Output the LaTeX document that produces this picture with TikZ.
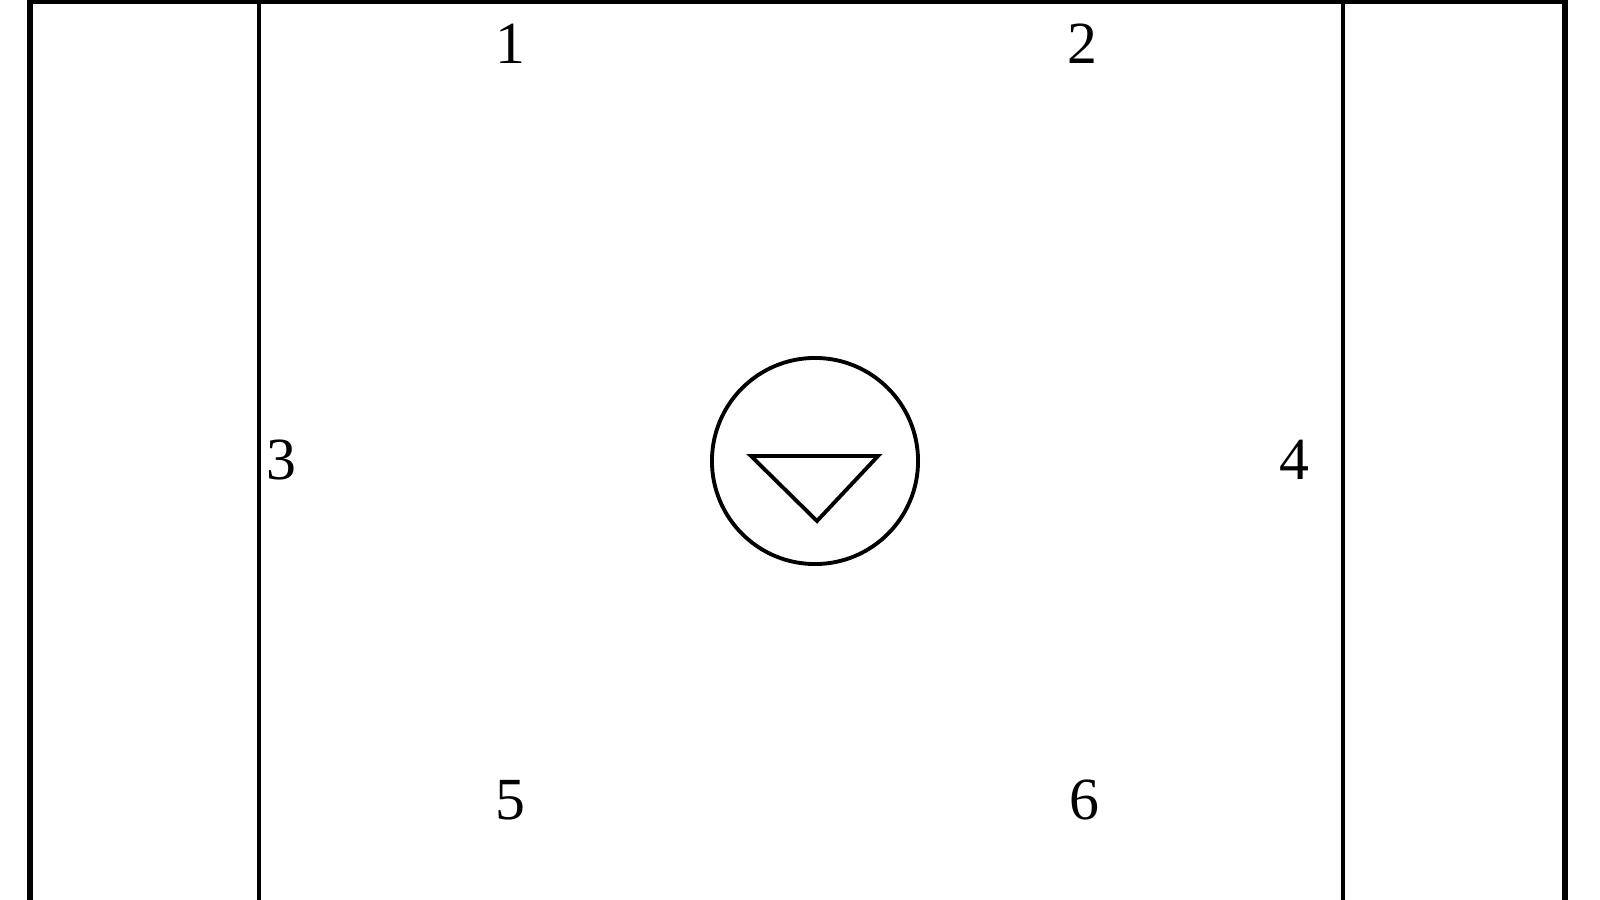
\documentclass[tikz,border=0pt]{standalone}
\usepackage{fontspec}
\setmainfont{Liberation Serif}
\begin{document}
\begin{tikzpicture}[x=0.01cm,y=-0.01cm,
  lbl/.style={font=\fontsize{17}{20}\selectfont, inner sep=0pt},
  thickline/.style={line width=1.6pt},
  thinline/.style={line width=1.1pt}]
\useasboundingbox[fill=white] (0,0) rectangle (1600,900);
% corner coordinates
\coordinate (ol) at (30,1);
\coordinate (or) at (1565,1);
\coordinate (olb) at (30,900);
\coordinate (orb) at (1565,900);
\coordinate (il) at (259,1);
\coordinate (ilb) at (259,900);
\coordinate (ir) at (1343,1);
\coordinate (irb) at (1343,900);
\draw[thickline] (olb) -- (ol) -- (or) -- (orb);
\draw[thinline] (il) -- (ilb);
\draw[thinline] (ir) -- (irb);
% centre circle with triangle
\node[draw, circle, line width=1.1pt, inner sep=0pt, minimum size=2.06cm] (c) at (815,461) {};
\coordinate (t1) at (751,456);
\coordinate (t2) at (878,456);
\coordinate (t3) at (817,521);
\draw[line width=1.1pt, line join=miter] (t1) -- (t2) -- (t3) -- cycle;
% labels
\node[lbl] (n1) at (510,44) {1};
\node[lbl] (n2) at (1082,44) {2};
\node[lbl] (n3) at (281,460) {3};
\node[lbl] (n4) at (1294,460) {4};
\node[lbl] (n5) at (510,800) {5};
\node[lbl] (n6) at (1084,800) {6};
\end{tikzpicture}
\end{document}
